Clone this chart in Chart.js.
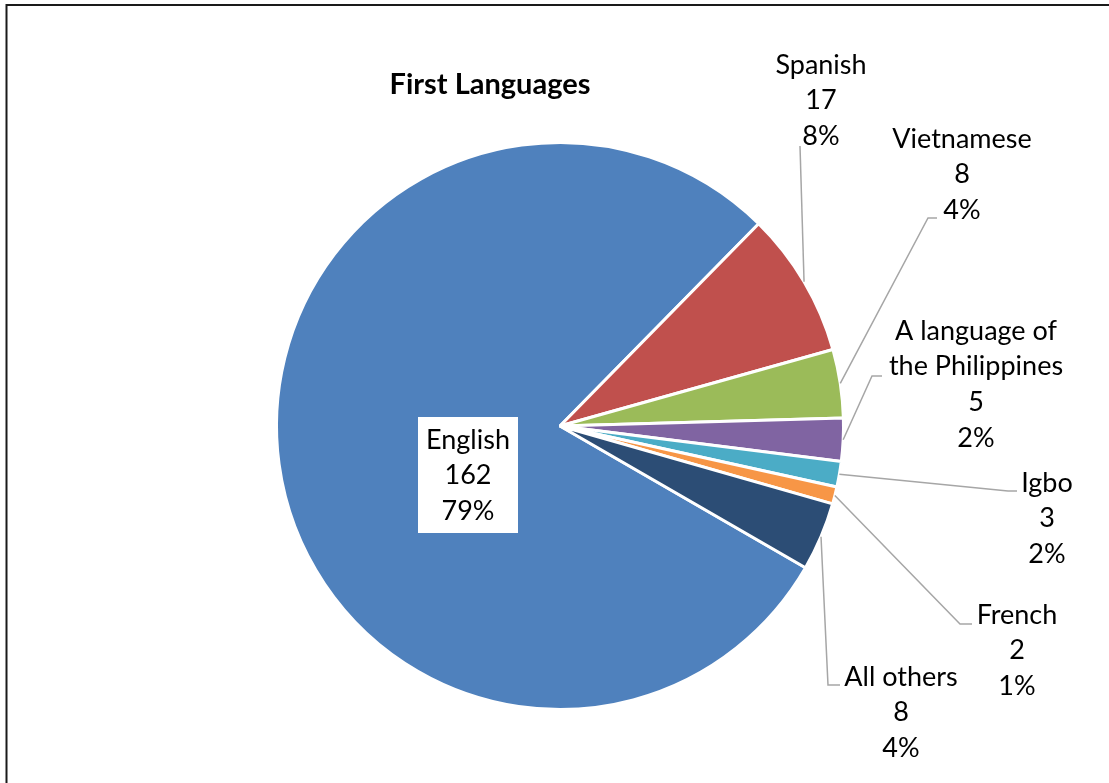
<!DOCTYPE html>
<html><head><meta charset="utf-8">
<script src="https://cdn.jsdelivr.net/npm/chart.js@4.4.1/dist/chart.umd.min.js"></script>
<style>html,body{margin:0;padding:0;background:#fff;overflow:hidden}#wrap{position:relative;width:1109px;height:783px}</style>
</head><body><div id="wrap"><canvas id="c" width="1109" height="783"></canvas></div>
<script>
// ---- data ----
const categories = ['English', 'Spanish', 'Vietnamese', 'A language of the Philippines', 'Igbo', 'French', 'All others'];
const categoryLines = [['English'], ['Spanish'], ['Vietnamese'], ['A language of', 'the Philippines'], ['Igbo'], ['French'], ['All others']];
const counts = [162, 17, 8, 5, 3, 2, 8];
const percentLabels = ['79%', '8%', '4%', '2%', '2%', '1%', '4%'];
const chartTitle = 'First Languages';

// ---- style / layout ----
const colors = ['#4F81BD', '#C0504D', '#9BBB59', '#8064A2', '#4BACC6', '#F79646', '#2C4D75'];
const FONT = 'Lato, "Open Sans", sans-serif';
const FS = 27, LH = 35.7, TITLE_FS = 29;
// label anchor (center x, first line center y), leader elbow and tail end
const labelLayout = [
  {x: 468, y: 440, box: true},
  {x: 821, y: 65, elbow: [800, 146], tail: 800},
  {x: 962, y: 139, elbow: [928, 218], tail: 937},
  {x: 976, y: 331, elbow: [872, 376], tail: 882},
  {x: 1047, y: 483, elbow: [1008, 491], tail: 1017},
  {x: 1017, y: 615, elbow: [960, 624], tail: 972},
  {x: 901, y: 677, elbow: [828, 685], tail: 840}
];

const framePlugin = {
  id: 'frame',
  beforeDraw(chart) {
    const c = chart.ctx;
    c.save();
    c.fillStyle = '#fff';
    c.fillRect(0, 0, chart.width, chart.height);
    c.restore();
  },
  afterDraw(chart) {
    const c = chart.ctx;
    c.save();
    c.strokeStyle = '#1a1a1a';
    c.lineWidth = 2;
    c.beginPath();
    c.moveTo(6.5, 783); c.lineTo(6.5, 5); c.lineTo(1109, 5);
    c.stroke();
    // title
    c.fillStyle = '#000';
    c.font = 'bold ' + TITLE_FS + 'px ' + FONT;
    c.textAlign = 'center';
    c.textBaseline = 'middle';
    c.fillText(chartTitle, 490, 85);

    const meta = chart.getDatasetMeta(0);
    meta.data.forEach((arc, i) => {
      const L = labelLayout[i];
      const lines = categoryLines[i].concat([String(counts[i]), percentLabels[i]]);
      c.font = FS + 'px ' + FONT;
      if (L.box) {
        c.fillStyle = '#fff';
        c.fillRect(418, 417, 100, 116);
      } else {
        const mid = (arc.startAngle + arc.endAngle) / 2;
        const r = arc.outerRadius;
        const sx = arc.x + Math.cos(mid) * r, sy = arc.y + Math.sin(mid) * r;
        c.strokeStyle = '#a6a6a6';
        c.lineWidth = 1.5;
        c.beginPath();
        c.moveTo(sx, sy);
        c.lineTo(L.elbow[0], L.elbow[1]);
        c.lineTo(L.tail, L.elbow[1]);
        c.stroke();
      }
      c.fillStyle = '#000';
      lines.forEach((t, k) => c.fillText(t, L.x, L.y + k * LH));
    });
    c.restore();
  }
};

new Chart(document.getElementById('c'), {
  type: 'pie',
  data: {
    labels: categories,
    datasets: [{
      data: counts,
      backgroundColor: colors,
      borderColor: '#ffffff',
      borderWidth: 3,
      borderJoinStyle: 'bevel',
      radius: 283.5
    }]
  },
  options: {
    responsive: false,
    animation: false,
    events: [],
    rotation: 120,
    layout: {padding: {left: 11, right: 0, top: 69, bottom: 0}},
    plugins: {legend: {display: false}, tooltip: {enabled: false}, title: {display: false}}
  },
  plugins: [framePlugin]
});
</script>
</body></html>
